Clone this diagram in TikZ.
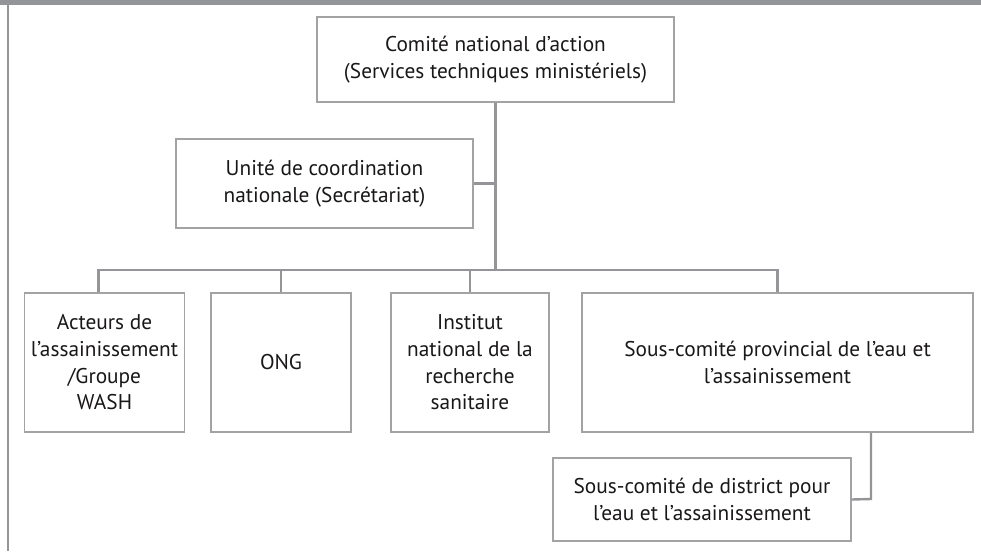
\documentclass[tikz,border=0pt]{standalone}
\usepackage{fontspec}
\setmainfont{PT Sans}
\usepackage{xcolor}
\usetikzlibrary{positioning}
\definecolor{framegray}{HTML}{939598}
\definecolor{boxgray}{HTML}{A3A3A3}
\definecolor{inkgray}{HTML}{1A1718}

\begin{document}
\begin{tikzpicture}[
    x=0.75pt, y=-0.75pt,
    font=\fontsize{16}{20}\selectfont,
    orgbox/.style n args={2}{
        draw=boxgray,
        line width=0.9pt,
        align=center,
        text=inkgray,
        inner sep=0pt,
        minimum width=#1*0.75pt,
        minimum height=#2*0.75pt
    },
    link/.style={draw=framegray, line width=1.8pt}
]
\useasboundingbox (0,0) rectangle (981,551);

% frame of the figure
\fill[framegray] (0,0) rectangle (981,5);
\draw[framegray, line width=1.5pt] (7.5,5) -- (7.5,551);

\node[orgbox={357}{85}] (comite) at (495.5,59.5)
{Comité national d’action\\(Services techniques ministériels)};

\node[orgbox={297}{89}] (unite) at (324.5,183.5)
{Unité de coordination\\nationale (Secrétariat)};

\node[orgbox={160}{139}] (acteurs) at (104.5,362.5)
{Acteurs de\\l’assainissement\\/Groupe\\WASH};

\node[orgbox={140}{139}] (ong) at (281,362.5) {ONG};

\node[orgbox={158}{139}] (institut) at (470,362.5)
{Institut\\national de la\\recherche\\sanitaire};

\node[orgbox={391}{139}] (provincial) at (777.5,362.5)
{Sous-comité provincial de l’eau et\\l’assainissement};

\node[orgbox={298}{83}] (district) at (702,499.5)
{Sous-comité de district pour\\l’eau et l’assainissement};

\coordinate (bus) at (496,270);
\coordinate (elbow) at (871,499);

\draw[link] (comite.south) -- (comite.south |- bus);
\draw[link] (unite.east) -- (unite.east -| comite.south);

\draw[link] ([xshift=-4.5pt]acteurs.north) -- ([xshift=-4.5pt]acteurs.north |- bus)
    -- (provincial.north |- bus) -- (provincial.north);
\draw[link] (ong.north) -- (ong.north |- bus);
\draw[link] (institut.north) -- (institut.north |- bus);

\draw[link] (elbow |- provincial.south) -- (elbow) -- (district.east);

\end{tikzpicture}
\end{document}
